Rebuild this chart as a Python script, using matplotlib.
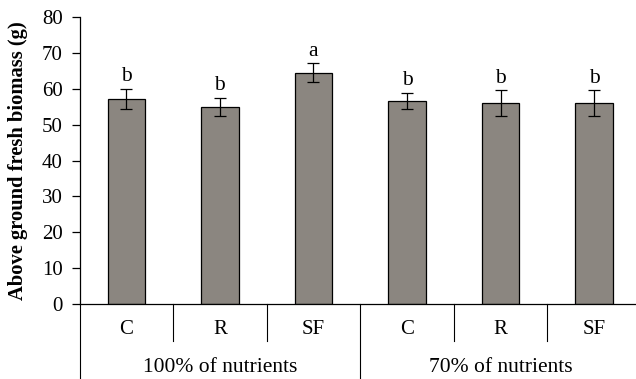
import matplotlib
matplotlib.use("Agg")
import matplotlib.pyplot as plt

plt.rcParams['font.family'] = ['Liberation Serif', 'DejaVu Serif']

treatments = ["C", "R", "SF", "C", "R", "SF"]
groups = ["100% of nutrients", "70% of nutrients"]
means = [57.1, 54.9, 64.4, 56.5, 56.0, 55.9]
errors = [2.7, 2.6, 2.6, 2.3, 3.5, 3.6]
letters = ["b", "b", "a", "b", "b", "b"]

W, H = 636, 379
fig = plt.figure(figsize=(W / 100, H / 100), dpi=100)
left, right, top, bottom = 79.5, 641, 16.7, 304.3
ax = fig.add_axes([left / W, 1 - bottom / H, (right - left) / W, (bottom - top) / H])

x = list(range(len(means)))
ax.bar(x, means, width=0.4, color="#8b8680", edgecolor="black", linewidth=0.9, zorder=2)
ax.errorbar(x, means, yerr=errors, fmt="none", ecolor="black", elinewidth=0.9,
            capsize=4, capthick=0.9, zorder=3)
for xi, m, e, l in zip(x, means, errors, letters):
    ax.text(xi, m + e + 0.8, l, ha="center", va="bottom", fontsize=15.5)

ax.set_xlim(-0.5, 5.5)
ax.set_ylim(0, 80)
ax.set_yticks(range(0, 81, 10))
ax.tick_params(axis="y", labelsize=15, length=6, width=0.9, direction="out", pad=6)
ax.set_xticks([])
for s in ["top", "right"]:
    ax.spines[s].set_visible(False)
ax.spines["left"].set_linewidth(0.9)
ax.spines["bottom"].set_linewidth(0.9)

ax.set_ylabel("Above ground fresh biomass (g)", fontsize=14.8, fontweight="bold")
ax.yaxis.set_label_coords(-0.092, 0.5)

# category separators below the axis
tr = ax.get_xaxis_transform()
axh = bottom - top
short = -(340.5 - bottom) / axh
for xd in [0.5, 1.5, 3.5, 4.5]:
    ax.plot([xd, xd], [0, short], color="black", linewidth=0.8, transform=tr, clip_on=False)
for xd in [-0.5, 2.5, 5.5]:
    ax.plot([xd, xd], [0, -0.4], color="black", linewidth=0.8, transform=tr, clip_on=False)

cat_y = -(330 - bottom) / axh
for xi, t in zip(x, treatments):
    ax.text(xi, cat_y, t, ha="center", va="center", fontsize=15, transform=tr)
grp_y = -(367 - bottom) / axh
for gi, g in enumerate(groups):
    ax.text(gi * 3 + 1, grp_y, g, ha="center", va="center", fontsize=15.5, transform=tr)

fig.savefig("out.png", dpi=100)
